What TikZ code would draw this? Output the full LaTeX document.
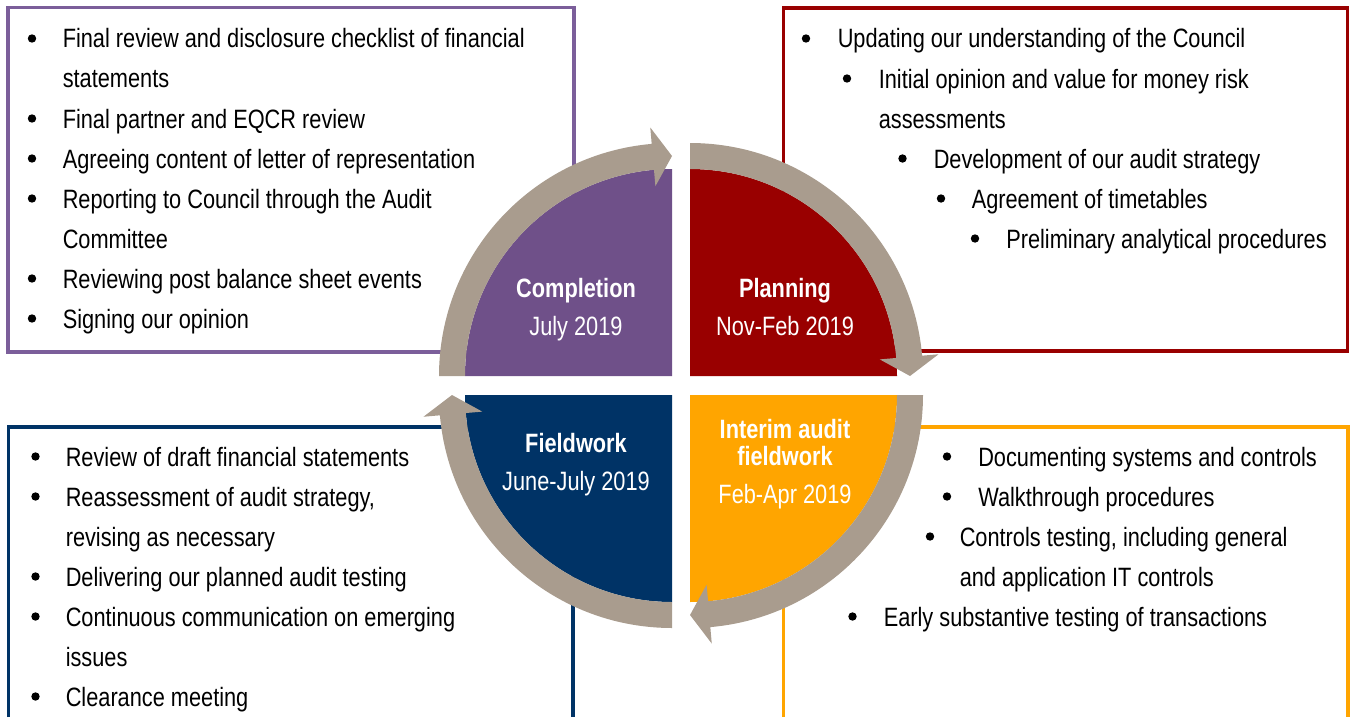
\documentclass[tikz,border=0pt]{standalone}
\usepackage{fontspec}
\setmainfont{Liberation Sans}[FakeStretch=0.82]
\usepackage{tikz}
\definecolor{complfill}{HTML}{6F5089}
\definecolor{complline}{HTML}{7B5E9A}
\definecolor{planfill}{HTML}{990000}
\definecolor{interimfill}{HTML}{FFA500}
\definecolor{fieldfill}{HTML}{003366}
\definecolor{ringgrey}{HTML}{A99C8E}
% grey ring arrow: corner of the quarter, start angle
\def\ringarrow#1#2{%
  \fill[ringgrey] ([shift={(#1)}]#2:233) arc[start angle=#2, end angle=#2+85, radius=233]
    -- ([shift={(#1)}]#2+85:249.5) -- ([shift={(#1)}]#2+90:220)
    -- ([shift={(#1)}]#2+85:190.5) -- ([shift={(#1)}]#2+85:207)
    arc[start angle=#2+85, end angle=#2, radius=207] -- cycle;}

\begin{document}
\begin{tikzpicture}[x=0.75pt,y=-0.75pt,
  item/.style={anchor=base west, inner sep=0pt, align=left, font=\fontsize{19.9}{30}\selectfont},
  dot/.style={circle, fill=black, inner sep=0pt, minimum size=6.3pt},
  qtitle/.style={anchor=base, inner sep=0pt, text=white, font=\fontsize{19.9}{24}\selectfont\bfseries},
  qdate/.style={anchor=base, inner sep=0pt, text=white, font=\fontsize{19.9}{24}\selectfont}]
\useasboundingbox (0,0) rectangle (1351,717);
%boxes
  \draw[complline, line width=2.6pt] (8,7.5) rectangle (574,352);
  \draw[planfill, line width=2.6pt] (783.5,8) rectangle (1347.5,351);
  \draw[fieldfill, line width=2.6pt] (8.5,717) |- (573,427) -- (573,717);
  \draw[interimfill, line width=2.6pt] (783.5,717) |- (1348,427) -- (1348,717);
%quarters
  \coordinate (cc) at (672,376);
  \coordinate (pc) at (690,376);
  \coordinate (ic) at (690,395);
  \coordinate (fc) at (672,395);
  \fill[complfill] (cc) -- ++(180:207) arc[start angle=180, end angle=270, radius=207] -- cycle;
  \fill[planfill] (pc) -- ++(270:207) arc[start angle=270, end angle=360, radius=207] -- cycle;
  \fill[interimfill] (ic) -- ++(0:207) arc[start angle=0, end angle=90, radius=207] -- cycle;
  \fill[fieldfill] (fc) -- ++(90:207) arc[start angle=90, end angle=180, radius=207] -- cycle;
%ring arrows
  \ringarrow{cc}{180}
  \ringarrow{pc}{270}
  \ringarrow{ic}{0}
  \ringarrow{fc}{90}
%quarter labels
  \node[qtitle] (complt) at (576,297) {Completion};
  \node[qdate] (compld) at (576,335) {July 2019};
  \node[qtitle] (plant) at (785,297) {Planning};
  \node[qdate] (pland) at (785,335) {Nov-Feb 2019};
  \node[qtitle] (fieldt) at (576,452) {Fieldwork};
  \node[qdate] (fieldd) at (576,490) {June-July 2019};
  \node[qtitle] (intert) at (785,438) {Interim audit};
  \node[qtitle] (intert2) at (785,465) {fieldwork};
  \node[qdate] (interd) at (785,503) {Feb-Apr 2019};
%completion box (two-line items sit on their last line)
  \node[dot] (c1b) at (32,38.5) {};
  \node[item] (c1) at (62.5,88) {Final review and disclosure checklist of financial\\statements};
  \node[dot] (c2b) at (32,118.5) {};
  \node[item] (c2) at (62.5,128) {Final partner and EQCR review};
  \node[dot] (c3b) at (32,158.5) {};
  \node[item] (c3) at (62.5,168) {Agreeing content of letter of representation};
  \node[dot] (c4b) at (32,198.5) {};
  \node[item] (c4) at (62.5,248) {Reporting to Council through the Audit\\Committee};
  \node[dot] (c5b) at (32,278.5) {};
  \node[item] (c5) at (62.5,288) {Reviewing post balance sheet events};
  \node[dot] (c6b) at (32,318.5) {};
  \node[item] (c6) at (62.5,328) {Signing our opinion};
%planning box
  \node[dot] (p1b) at (806,38.5) {};
  \node[item] (p1) at (837.5,48) {Updating our understanding of the Council};
  \node[dot] (p2b) at (847,78.5) {};
  \node[item] (p2) at (878.5,128) {Initial opinion and value for money risk\\assessments};
  \node[dot] (p3b) at (902.5,158.5) {};
  \node[item] (p3) at (933.5,168) {Development of our audit strategy};
  \node[dot] (p4b) at (941,198.5) {};
  \node[item] (p4) at (971.5,208) {Agreement of timetables};
  \node[dot] (p5b) at (975,238.5) {};
  \node[item] (p5) at (1006,248) {Preliminary analytical procedures};
%fieldwork box
  \node[dot] (f1b) at (35.5,456.5) {};
  \node[item] (f1) at (65.5,466) {Review of draft financial statements};
  \node[dot] (f2b) at (35.5,496.5) {};
  \node[item] (f2) at (65.5,546) {Reassessment of audit strategy,\\revising as necessary};
  \node[dot] (f3b) at (35.5,576.5) {};
  \node[item] (f3) at (65.5,586) {Delivering our planned audit testing};
  \node[dot] (f4b) at (35.5,616.5) {};
  \node[item] (f4) at (65.5,666) {Continuous communication on emerging\\issues};
  \node[dot] (f5b) at (35.5,696.5) {};
  \node[item] (f5) at (65.5,706) {Clearance meeting};
%interim box
  \node[dot] (i1b) at (947,456.5) {};
  \node[item] (i1) at (978,466) {Documenting systems and controls};
  \node[dot] (i2b) at (947,496.5) {};
  \node[item] (i2) at (978,506) {Walkthrough procedures};
  \node[dot] (i3b) at (930,536.5) {};
  \node[item] (i3) at (959.5,586) {Controls testing, including general\\and application IT controls};
  \node[dot] (i4b) at (852.5,616.5) {};
  \node[item] (i4) at (883.5,626) {Early substantive testing of transactions};
\end{tikzpicture}
\end{document}
